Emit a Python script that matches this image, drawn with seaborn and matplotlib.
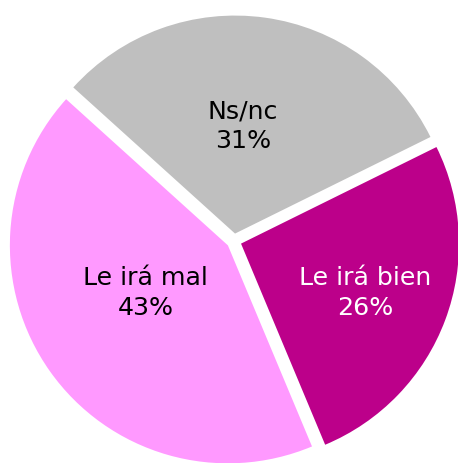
import numpy as np
import matplotlib
matplotlib.use("Agg")
from matplotlib import pyplot as plt
import seaborn as sns

labels = ["Ns/nc", "Le irá mal", "Le irá bien"]
values = [31, 43, 26]
colors = ["#BFBFBF", "#FF99FF", "#BC008A"]
text_colors = ["black", "black", "white"]
# label placement (polar, relative to each exploded wedge centre)
label_angle = [85.7, 209.9, 338.4]
label_dist = [0.492, 0.436, 0.614]

sns.set_theme(style="white")
plt.rcParams["font.family"] = ["DejaVu Sans"]

fig = plt.figure(figsize=(4.58, 4.63), dpi=100)
ax = fig.add_axes([0, 0, 1, 1])

R = 218
cx, cy = 234, 463 - 241
# explode is in data units here (pixels)
wedges, _ = ax.pie(values, colors=colors, startangle=26.3, counterclock=True,
                   radius=R, center=(cx, cy), explode=[7.5] * 3,
                   wedgeprops=dict(linewidth=0))

for w, lab, v, tc, a, d in zip(wedges, labels, values, text_colors,
                               label_angle, label_dist):
    t = np.deg2rad(a)
    x = w.center[0] + d * R * np.cos(t)
    y = w.center[1] + d * R * np.sin(t)
    ax.text(x, y, f"{lab}\n{v}%", ha="center", va="center", fontsize=18.2,
            color=tc, linespacing=1.3)

ax.set_xlim(0, 458)
ax.set_ylim(0, 463)
ax.set_aspect("equal")
ax.axis("off")

fig.savefig("out.png", dpi=100)
